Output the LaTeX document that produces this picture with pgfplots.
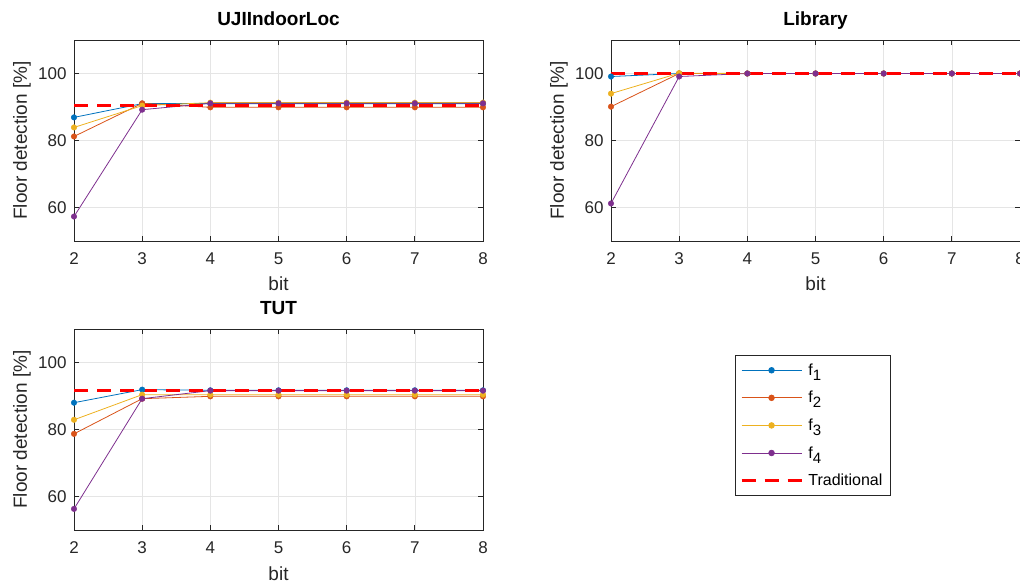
\documentclass[border=0pt]{standalone}
\usepackage{pgfplots}
\pgfplotsset{compat=1.18}
\usepackage{pgfplotstable}
\usepackage{fontspec}
\setmainfont{Liberation Sans}
\definecolor{c1}{rgb}{0,0.447,0.741}
\definecolor{c2}{rgb}{0.85,0.325,0.098}
\definecolor{c3}{rgb}{0.929,0.694,0.125}
\definecolor{c4}{rgb}{0.494,0.184,0.556}
\definecolor{axc}{rgb}{0.15,0.15,0.15}

\pgfplotstableread{
bit f1 f2 f3 f4 trad
2 86.9 81.2 83.9 57.3 90.4
3 91.0 91.1 90.4 89.2 90.4
4 91.0 89.9 91.3 91.1 90.4
5 91.0 89.9 91.3 91.1 90.4
6 91.0 89.9 91.3 91.1 90.4
7 91.0 89.9 91.3 91.1 90.4
8 91.0 89.9 91.3 91.1 90.4
}\uji
\pgfplotstableread{
bit f1 f2 f3 f4 trad
2 99.1 90.1 94.0 61.2 100
3 100 100 100.1 99.1 100
4 100 100 100 100 100
5 100 100 100 100 100
6 100 100 100 100 100
7 100 100 100 100 100
8 100 100 100 100 100
}\lib
\pgfplotstableread{
bit f1 f2 f3 f4 trad
2 88.0 78.7 82.9 56.3 91.6
3 91.9 89.2 90.4 89.2 91.6
4 91.7 89.9 90.4 91.6 91.6
5 91.7 89.9 90.4 91.6 91.6
6 91.7 89.9 90.4 91.6 91.6
7 91.7 89.9 90.4 91.6 91.6
8 91.7 89.9 90.4 91.6 91.6
}\tut

\pgfplotsset{
  myax/.style={
    scale only axis, width=409bp, height=201bp, anchor=south west,
    xmin=2, xmax=8, ymin=50, ymax=110,
    xtick={2,3,4,5,6,7,8}, ytick={60,80,100},
    grid=major, grid style={color=black!10, line width=0.6bp},
    axis line style={color=axc, line width=0.7bp},
    tick style={color=axc, line width=0.7bp},
    tick align=inside, major tick length=5bp,
    /pgf/number format/assume math mode=true,
    ticklabel style={font=\fontsize{17bp}{20bp}\selectfont, color=axc},
    xticklabel style={yshift=-8bp},
    yticklabel style={xshift=-4bp},
    xlabel={bit}, ylabel={Floor detection [\%]},
    every axis x label/.style={at={(axis description cs:0.5,0)}, yshift=-50bp, anchor=base, font=\fontsize{19bp}{22bp}\selectfont, color=axc},
    every axis y label/.style={at={(axis description cs:0,0.5)}, xshift=-52bp, rotate=90, anchor=center, font=\fontsize{19bp}{22bp}\selectfont, color=axc},
    title style={at={(axis description cs:0.5,1)}, yshift=9bp, anchor=base, font=\bfseries\fontsize{19bp}{22bp}\selectfont, color=black},
  },
  fline/.style={line width=0.8bp, no marks},
  fmark/.style={only marks, mark=*, mark size=2.8bp},
  trad/.style={color=red, line width=2.6bp, dash pattern=on 14bp off 9bp, no marks},
}

\newcommand{\panel}[1]{%
  \addplot[fline, c1, forget plot] table[x=bit, y=f1] {#1};
  \addplot[fline, c2, forget plot] table[x=bit, y=f2] {#1};
  \addplot[fline, c3, forget plot] table[x=bit, y=f3] {#1};
  \addplot[fline, c4, forget plot] table[x=bit, y=f4] {#1};
  \addplot[trad, forget plot] table[x=bit, y=trad] {#1};
  \addplot[fmark, c1, forget plot] table[x=bit, y=f1] {#1};
  \addplot[fmark, c2, forget plot] table[x=bit, y=f2] {#1};
  \addplot[fmark, c3, forget plot] table[x=bit, y=f3] {#1};
  \addplot[fmark, c4, forget plot] table[x=bit, y=f4] {#1};
}
\newcommand{\fsub}[1]{f\raisebox{-5bp}{\fontsize{15bp}{16bp}\selectfont #1}}

\begin{document}
\begin{tikzpicture}
\begin{axis}[myax, at={(74bp,342bp)}, title={UJIIndoorLoc}]
\panel{\uji}
\end{axis}
\begin{axis}[myax, at={(611bp,342bp)}, title={Library}]
\panel{\lib}
\end{axis}
\begin{axis}[myax, at={(74bp,53bp)}, title={TUT},
  legend cell align=left,
  legend style={at={(axis description cs:1.616,0.871)}, anchor=north west,
    draw=axc, line width=0.6bp, fill=white,
    font=\fontsize{16bp}{18bp}\selectfont, row sep=9.5bp, inner xsep=5bp, inner ysep=6bp,
    nodes={inner sep=2.5bp},
    /tikz/every odd column/.append style={column sep=3bp}},
  legend image code/.code={\draw[mark repeat=2, mark phase=2] plot coordinates {(0bp,0bp) (30bp,0bp) (60bp,0bp)};},
]
\panel{\tut}
\addlegendimage{c1, line width=0.8bp, mark=*, mark size=2.8bp}
\addlegendentry{\fsub{1}}
\addlegendimage{c2, line width=0.8bp, mark=*, mark size=2.8bp}
\addlegendentry{\fsub{2}}
\addlegendimage{c3, line width=0.8bp, mark=*, mark size=2.8bp}
\addlegendentry{\fsub{3}}
\addlegendimage{c4, line width=0.8bp, mark=*, mark size=2.8bp}
\addlegendentry{\fsub{4}}
\addlegendimage{red, line width=2.6bp, dash pattern=on 14bp off 9bp}
\addlegendentry{Traditional}
\end{axis}
\pgfresetboundingbox
\path (0bp,0bp) rectangle (1020bp,583bp);
\end{tikzpicture}
\end{document}
